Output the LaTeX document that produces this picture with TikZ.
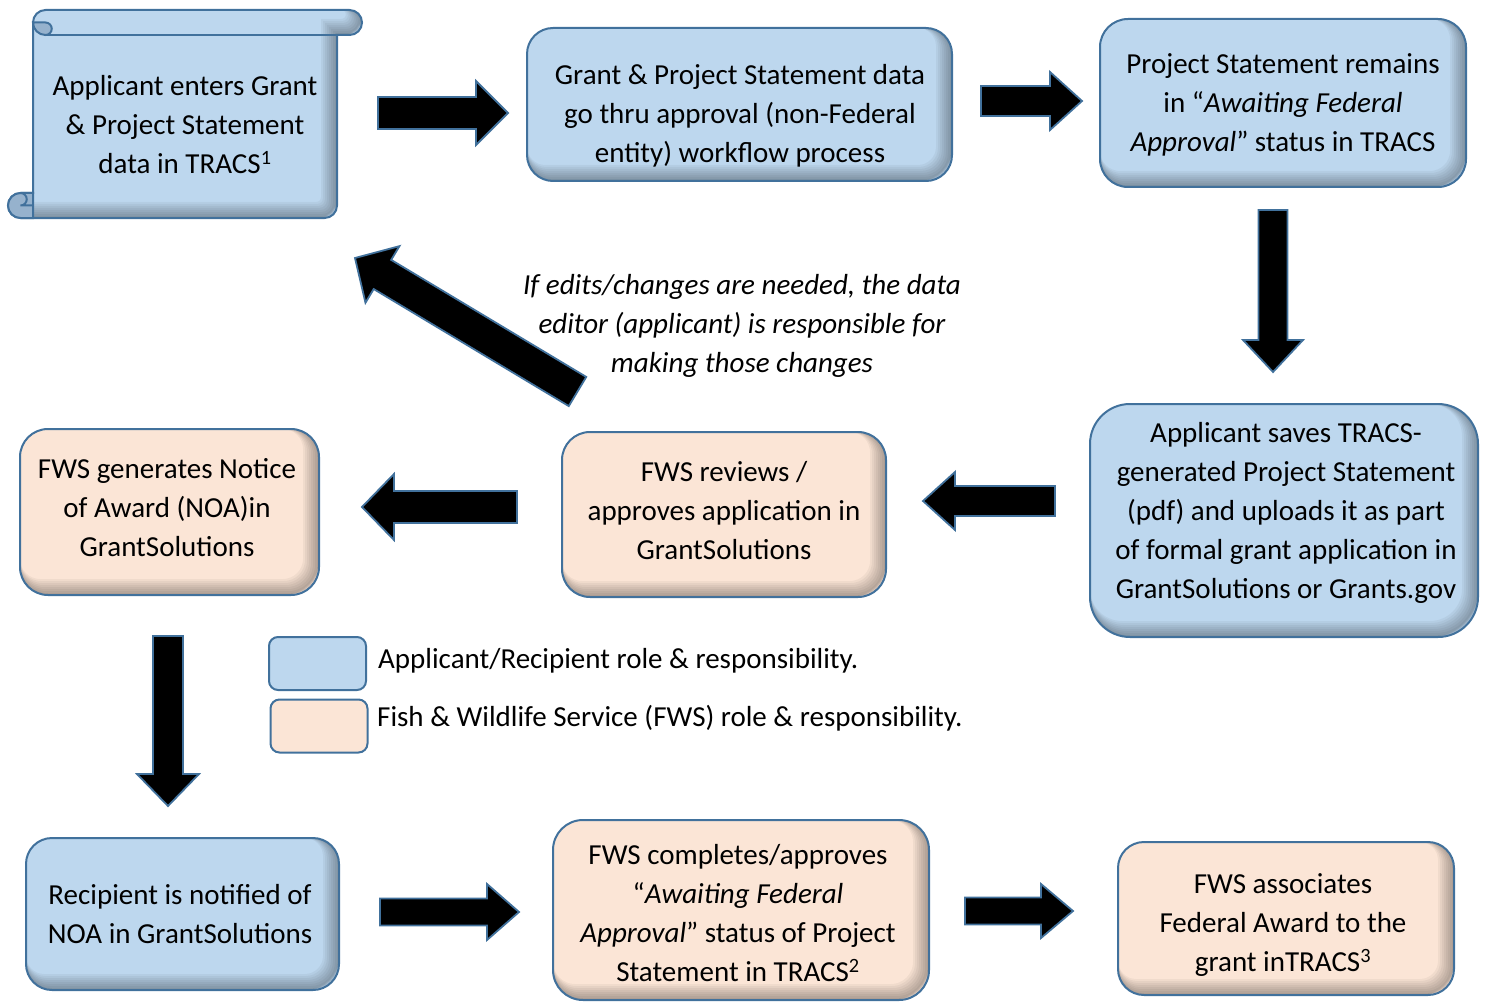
\documentclass[tikz,border=0pt]{standalone}
\usepackage{fontspec}
\setmainfont{Carlito}
\usetikzlibrary{calc}
\definecolor{appblue}{RGB}{189,215,238}
\definecolor{fwspeach}{RGB}{251,229,214}
\definecolor{edgeblue}{RGB}{65,113,156}
\definecolor{rollblue}{RGB}{150,178,205}
\newcommand{\boxfont}{\fontsize{29}{39}\selectfont}
% darker band along the right and bottom edges inside a box
\newcommand{\innershadow}[1]{%
  \foreach \s in {1,...,8}
    \draw[black, opacity=0.045, line width=2*\s, rounded corners=#1]
      ([xshift=-\s pt, yshift=\s pt]path picture bounding box.north west) rectangle
      ([xshift=-\s pt, yshift=\s pt]path picture bounding box.south east);}
% block arrow: tail, tip, half shaft width, half head width
\newcommand{\fatarrow}[4]{%
  \coordinate (hb) at ($#2!32pt!#1$);
  \draw[blockarrow] ($#1!#3!90:#2$) -- ($(hb)!#3!90:#2$) -- ($(hb)!#4!90:#2$) -- #2
    -- ($(hb)!#4!-90:#2$) -- ($(hb)!#3!-90:#2$) -- ($#1!#3!-90:#2$) -- cycle;}
\newcommand{\scrollpath}{(33,35) -- (33,22.5) arc (180:270:12.5) -- (349.5,10)
  arc (-90:90:12.5) -- (337,35) -- (337,205.5) arc (0:90:12.5) -- (20.5,218)
  arc (90:270:12.5) -- (33,193) -- cycle}
\tikzset{
  box/.style={draw=edgeblue, line width=2pt, inner sep=0pt,
    rounded corners=#1, path picture={\innershadow{#1}}},
  appbox/.style={box=#1, fill=appblue},
  fwsbox/.style={box=#1, fill=fwspeach},
  boxtext/.style={font=\boxfont, align=center, inner sep=0pt},
  blockarrow/.style={fill=black, draw=edgeblue, line width=1.8pt},
  scrolledge/.style={draw=edgeblue, line width=2pt},
  keybox/.style={draw=edgeblue, line width=2pt, rounded corners=9pt,
    minimum width=97pt, minimum height=53pt},
  keytext/.style={font=\boxfont, anchor=west, inner sep=0pt},
  note/.style={font=\boxfont\itshape, align=center, inner sep=0pt}
}
\begin{document}
\begin{tikzpicture}[x=1pt, y=-1pt]
\useasboundingbox (0,0) rectangle (1485,1003);
% scroll
\fill[appblue] \scrollpath;
\begin{scope}
  \clip \scrollpath;
  \foreach \s in {1,...,8}
    \draw[black, opacity=0.045, line width=2*\s, shift={(-\s,-\s)}] \scrollpath;
\end{scope}
\draw[scrolledge] \scrollpath;
\draw[scrolledge] (45.5,35) -- (337,35);
\draw[scrolledge, fill=rollblue] (33,22.5) arc (180:90:12.5) arc (90:-90:6.25) -- cycle;
\draw[scrolledge, fill=rollblue] (33,193) -- (20.5,193) arc (270:90:12.5) -- (33,218) -- cycle;
\draw[scrolledge] (20.5,193) arc (270:450:6.25) -- (33,205.5);
\node[boxtext] (enter) at (185,125)
  {Applicant enters Grant\\\& Project Statement\\data in TRACS\textsuperscript{1}};
% boxes
\node[appbox=26pt, minimum width=425pt, minimum height=153pt] (grant) at (739.5,104.5) {};
\node[appbox=28pt, minimum width=366pt, minimum height=168pt] (await) at (1283,103) {};
\node[appbox=40pt, minimum width=388pt, minimum height=233pt] (upload) at (1284,520.5) {};
\node[fwsbox=28pt, minimum width=324pt, minimum height=165pt] (review) at (724,514.5) {};
\node[fwsbox=28pt, minimum width=299pt, minimum height=166pt] (noa) at (169.5,512) {};
\node[appbox=26pt, minimum width=313pt, minimum height=152pt] (notify) at (182.5,914) {};
\node[fwsbox=30pt, minimum width=376pt, minimum height=180pt] (complete) at (741,910) {};
\node[fwsbox=26pt, minimum width=336pt, minimum height=153pt] (assoc) at (1286,918.5) {};
% box texts
\node[boxtext] (granttext) at (740,115.5)
  {Grant \& Project Statement data\\go thru approval (non-Federal\\entity) workflow process};
\node[boxtext] (awaittext) at (1283,105)
  {Project Statement remains\\in “\textit{Awaiting Federal}\\\textit{Approval}” status in TRACS};
\node[boxtext] (uploadtext) at (1286,512.5)
  {Applicant saves TRACS-\\generated Project Statement\\(pdf) and uploads it as part\\of formal grant application in\\GrantSolutions or Grants.gov};
\node[boxtext] (reviewtext) at (724,510.5)
  {FWS reviews /\\approves application in\\GrantSolutions};
\node[boxtext] (noatext) at (167,507.5)
  {FWS generates Notice\\of Award (NOA)in\\GrantSolutions};
\node[boxtext] (notifytext) at (180,914.5)
  {Recipient is notified of\\NOA in GrantSolutions};
\node[boxtext] (completetext) at (738,913.5)
  {FWS completes/approves\\“\textit{Awaiting Federal}\\\textit{Approval}” status of Project\\Statement in TRACS\textsuperscript{2}};
\node[boxtext] (assoctext) at (1283,925)
  {FWS associates\\Federal Award to the\\grant inTRACS\textsuperscript{3}};
% note
\node[note] (edits) at (742,326)
  {If edits/changes are needed, the data\\editor (applicant) is responsible for\\making those changes};
% legend
\node[keybox, fill=appblue] (keyapp) at (317.5,663.5) {};
\node[keybox, fill=fwspeach] (keyfws) at (319,726) {};
\node[keytext] (keyapptext) at (378,661) {Applicant/Recipient role \& responsibility.};
\node[keytext] (keyfwstext) at (377,718) {Fish \& Wildlife Service (FWS) role \& responsibility.};
% arrows
\coordinate (t1) at (378,113);   \coordinate (h1) at (508,113);
\coordinate (t2) at (981,101);   \coordinate (h2) at (1082,101);
\coordinate (t3) at (1273,210);  \coordinate (h3) at (1273,372);
\coordinate (t4) at (1055,501);  \coordinate (h4) at (923,501);
\coordinate (t5) at (517,507);   \coordinate (h5) at (362,507);
\coordinate (t6) at (577.5,391.5); \coordinate (h6) at (355,258);
\coordinate (t7) at (168,636);   \coordinate (h7) at (168,806);
\coordinate (t8) at (380,912);   \coordinate (h8) at (519,912);
\coordinate (t9) at (965,911);   \coordinate (h9) at (1073,911);
\fatarrow{(t1)}{(h1)}{16pt}{32pt}
\fatarrow{(t2)}{(h2)}{15pt}{29pt}
\fatarrow{(t3)}{(h3)}{14.5pt}{30pt}
\fatarrow{(t4)}{(h4)}{15pt}{29pt}
\fatarrow{(t5)}{(h5)}{16pt}{33pt}
\fatarrow{(t6)}{(h6)}{17pt}{33pt}
\fatarrow{(t7)}{(h7)}{15pt}{31pt}
\fatarrow{(t8)}{(h8)}{13.5pt}{28pt}
\fatarrow{(t9)}{(h9)}{13.5pt}{27pt}
\end{tikzpicture}
\end{document}
